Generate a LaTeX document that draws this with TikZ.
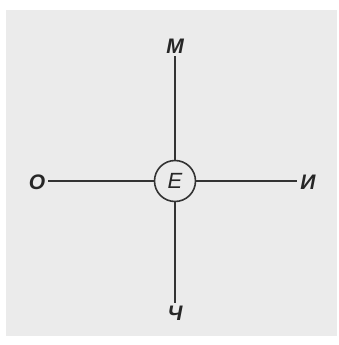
\documentclass[tikz,border=0pt]{standalone}
\usepackage{fontspec}
\setmainfont{Liberation Sans}
\begin{document}
\begin{tikzpicture}[x=1pt,y=-1pt,
  lbl/.style={font=\fontsize{21}{21}\selectfont\itshape\bfseries, text=black!85, inner sep=3pt},
  ln/.style={line width=2pt, draw=black!80}]
\useasboundingbox (0,0) rectangle (339,345);
\fill[black!8] (6,10) rectangle (337,336);
\node[circle, draw=black!80, line width=1.6pt, minimum size=41pt, inner sep=0pt,
      font=\fontsize{22}{22}\selectfont\itshape, text=black!85] (E) at (175,181) {E};
\node[lbl] (M) at (175,46) {М};
\node[lbl] (Ch) at (175,313) {Ч};
\node[lbl] (O) at (37,182) {О};
\node[lbl] (I) at (308,182) {И};
\draw[ln] (E.north) -- (M.south);
\draw[ln] (E.south) -- (Ch.north);
\draw[ln] (E.west) -- (E.west -| O.east);
\draw[ln] (E.east) -- (E.east -| I.west);
\end{tikzpicture}
\end{document}
